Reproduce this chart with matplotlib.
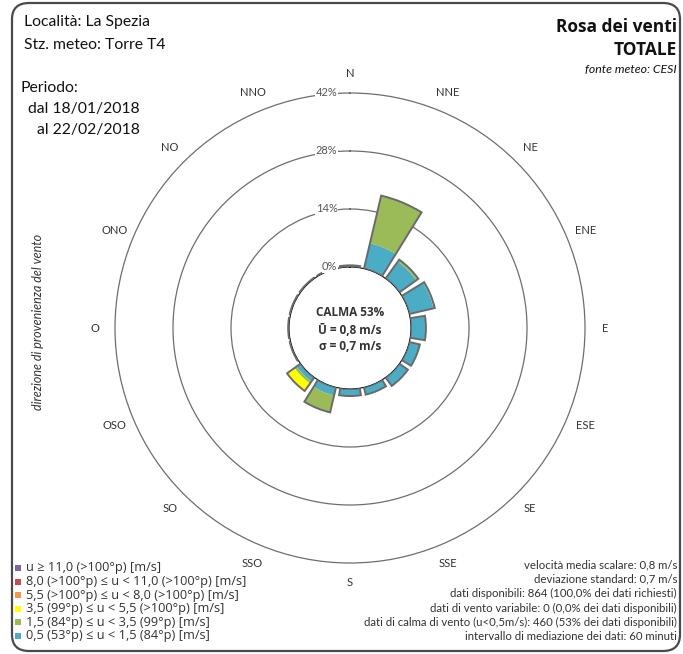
import numpy as np
import matplotlib
matplotlib.use("Agg")
import matplotlib.pyplot as plt
from matplotlib.patches import FancyBboxPatch

plt.rcParams['font.family'] = ['Lato', 'DejaVu Sans']
GRASSETTO = ['Open Sans', 'DejaVu Sans']

W, H = 683, 654

# direzioni di provenienza (da N in senso orario)
direzioni = ["N", "NNE", "NE", "ENE", "E", "ESE", "SE", "SSE",
             "S", "SSO", "SO", "OSO", "O", "ONO", "NO", "NNO"]

# frequenze [%] per classe di velocita'
freq_05_15 = [0.4, 6.3, 5.0, 6.0, 3.5, 2.6, 2.5, 1.8, 1.7, 2.0, 1.2, 0.2, 0.2, 0.2, 0.2, 0.2]
freq_15_35 = [0.0, 11.8, 0.6, 0.3, 0.1, 0.0, 0.0, 0.0, 0.0, 4.2, 0.6, 0.0, 0.0, 0.0, 0.0, 0.0]
freq_35_55 = [0.0, 0.0, 0.0, 0.0, 0.0, 0.0, 0.0, 0.0, 0.0, 0.0, 2.2, 0.0, 0.0, 0.0, 0.0, 0.0]
freq_55_80 = [0.0, 0.0, 0.0, 0.0, 0.0, 0.0, 0.0, 0.0, 0.0, 0.0, 0.0, 0.0, 0.0, 0.0, 0.0, 0.0]
freq_80_110 = [0.0, 0.0, 0.0, 0.0, 0.0, 0.0, 0.0, 0.0, 0.0, 0.0, 0.0, 0.0, 0.0, 0.0, 0.0, 0.0]
freq_110 = [0.0, 0.0, 0.0, 0.0, 0.0, 0.0, 0.0, 0.0, 0.0, 0.0, 0.0, 0.0, 0.0, 0.0, 0.0, 0.0]

classi = ["0,5 (53°p) ≤ u < 1,5 (84°p) [m/s]",
          "1,5 (84°p) ≤ u < 3,5 (99°p) [m/s]",
          "3,5 (99°p) ≤ u < 5,5 (>100°p) [m/s]",
          "5,5 (>100°p) ≤ u < 8,0 (>100°p) [m/s]",
          "8,0 (>100°p) ≤ u < 11,0 (>100°p) [m/s]",
          "u ≥ 11,0 (>100°p) [m/s]"]
colori = ["#4BACC6", "#9BBB59", "#FFFF00", "#F79646", "#C0504D", "#8064A2"]

anelli = [0, 14, 28, 42]
anelli_lab = ["0%", "14%", "28%", "42%"]

info = ["velocità media scalare: 0,8 m/s",
        "deviazione standard: 0,7 m/s",
        "dati disponibili: 864 (100,0% dei dati richiesti)",
        "dati di vento variabile: 0 (0,0% dei dati disponibili)",
        "dati di calma di vento (u<0,5m/s): 460 (53% dei dati disponibili)",
        "intervallo di mediazione dei dati: 60 minuti"]


def px(x, y):
    # pixel immagine -> coordinate figura
    return x / W, 1 - y / H


fig = plt.figure(figsize=(W / 100, H / 100), dpi=100)

# cornice arrotondata
fig.patches.append(FancyBboxPatch((12 / W, 3 / H), 668 / W, 648 / H,
                                  boxstyle="round,pad=0,rounding_size=0.025",
                                  transform=fig.transFigure, fc='none',
                                  ec='#4a4a4a', lw=1.6))

cx, cy, R, r0 = 350, 328, 235, 61
ax = fig.add_axes([(cx - R) / W, (H - cy - R) / H, 2 * R / W, 2 * R / H], projection='polar')
ax.set_theta_zero_location('N')
ax.set_theta_direction(-1)
ax.set_ylim(0, 42)
scala = (R - r0) / 42
ax.set_rorigin(-r0 / scala)

theta = np.deg2rad(np.arange(16) * 22.5)
larg = np.deg2rad(18.5)
serie = [freq_05_15, freq_15_35, freq_35_55, freq_55_80, freq_80_110, freq_110]
base = np.zeros(16)
for vals, col in zip(serie, colori):
    vals = np.array(vals)
    ax.bar(theta, vals, width=larg, bottom=base, color=col, edgecolor='none', zorder=3)
    base += vals
ax.bar(theta, base, width=larg, bottom=0, facecolor='none', edgecolor='#6a6a6a', lw=1.4, zorder=4)

ax.set_xticks([])
ax.set_yticks([14, 28])
ax.set_yticklabels([])
ax.yaxis.grid(True, color='#6e6e6e', lw=0.9)
ax.spines['polar'].set_color('#6e6e6e')
ax.spines['polar'].set_linewidth(0.9)
ax.spines['inner'].set_visible(False)

for v, lab in zip(anelli, anelli_lab):
    ax.annotate(lab, xy=(0, v), xytext=(-9, 0), textcoords='offset points',
                ha='right', va='center', fontsize=8, color='#555555', zorder=5,
                bbox=dict(fc='white', ec='none', pad=0.3), annotation_clip=False)

for ang, nome in zip(theta, direzioni):
    ax.text(ang, 46.8, nome, ha='center', va='center', fontsize=8, color='#333333')

# testo centrale
for y, t in zip([312, 330, 347], ["CALMA 53%", "Ū = 0,8 m/s", "σ = 0,7 m/s"]):
    fig.text(*px(cx, y), t, ha='center', va='center', fontsize=8.5, weight='bold',
             family=GRASSETTO, color='#333333')

# intestazioni
fig.text(*px(24, 22), "Località: La Spezia", ha='left', va='center', fontsize=11.3, color='#111111')
fig.text(*px(24, 45), "Stz. meteo: Torre T4", ha='left', va='center', fontsize=11.3, color='#111111')
fig.text(*px(21, 88), "Periodo:", ha='left', va='center', fontsize=11.3, color='#111111')
fig.text(*px(28, 109), "dal 18/01/2018", ha='left', va='center', fontsize=11.3, color='#111111')
fig.text(*px(37, 130), "al 22/02/2018", ha='left', va='center', fontsize=11.3, color='#111111')

fig.text(*px(677, 27), "Rosa dei venti", ha='right', va='center', fontsize=12.5, weight='bold',
         family=GRASSETTO, color='#111111')
fig.text(*px(677, 50), "TOTALE", ha='right', va='center', fontsize=12.5, weight='bold',
         family=GRASSETTO, color='#111111')
fig.text(*px(677, 70), "fonte meteo: CESI", ha='right', va='center', fontsize=8.8, style='italic', color='#111111')

fig.text(*px(38, 322), "direzione di provenienza del vento", rotation=90, ha='center', va='center',
         fontsize=9, style='italic', color='#333333')

# legenda classi
for i, (lab, col) in enumerate(zip(classi[::-1], colori[::-1])):
    y = 568 + i * 13.6
    fig.patches.append(plt.Rectangle(px(15, y + 3), 6 / W, 6 / H, transform=fig.transFigure,
                                     fc=col, ec='none'))
    fig.text(*px(26, y), lab, ha='left', va='center', fontsize=9.2, family=GRASSETTO, color='#333333')

for i, t in enumerate(info):
    fig.text(*px(677, 565 + i * 14.4), t, ha='right', va='center', fontsize=8.2, color='#333333')

fig.savefig("out.png", dpi=100)
